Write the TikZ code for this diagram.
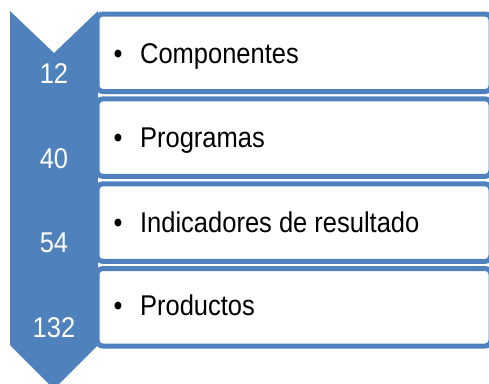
\documentclass[tikz,border=0pt]{standalone}
\usepackage{fontspec}
\setmainfont{Liberation Sans}
\usepackage{tikz}
\usetikzlibrary{positioning}
\usepackage{xcolor}
\definecolor{chevblue}{RGB}{79,129,189}
\newcommand{\tallfont}[1]{\scalebox{1}[1.12]{#1}}
\tikzstyle{itembox} = [rectangle, rounded corners=6pt, minimum width=394pt, minimum height=77.5pt, inner sep=0pt, draw=chevblue, fill=white, line width=5pt]
\tikzstyle{itemtext} = [anchor=base west, inner sep=0pt, font=\fontsize{25.5}{30}\selectfont, text=black]
\tikzstyle{count} = [anchor=base, inner sep=0pt, font=\fontsize{25.5}{30}\selectfont, text=white]

\begin{document}
\begin{tikzpicture}[x=1pt, y=-1pt]
\useasboundingbox (0,0) rectangle (489,383);

% Item boxes
\node[itembox] (box1) at (294,52.75) {};
\node[itembox] (box2) at (294,137.6) {};
\node[itembox] (box3) at (294,222.6) {};
\node[itembox] (box4) at (294,307.25) {};

% Chevron strip
\fill[chevblue] (10,11) -- (54,53) -- (98,11) -- (98,345) -- (54,389) -- (10,345) -- cycle;

% Numbers
\node[count] (n1) at (54,83) {\tallfont{12}};
\node[count] (n2) at (54,168) {\tallfont{40}};
\node[count] (n3) at (54,252) {\tallfont{54}};
\node[count] (n4) at (54,337) {\tallfont{132}};

% Labels
\node[itemtext] (t1) at (113.5,63) {\tallfont{\textbullet\hspace{17.5pt}Componentes}};
\node[itemtext] (t2) at (113.5,147) {\tallfont{\textbullet\hspace{17.5pt}Programas}};
\node[itemtext] (t3) at (113.5,232) {\tallfont{\textbullet\hspace{17.5pt}Indicadores de resultado}};
\node[itemtext] (t4) at (113.5,315) {\tallfont{\textbullet\hspace{17.5pt}Productos}};
\end{tikzpicture}
\end{document}
